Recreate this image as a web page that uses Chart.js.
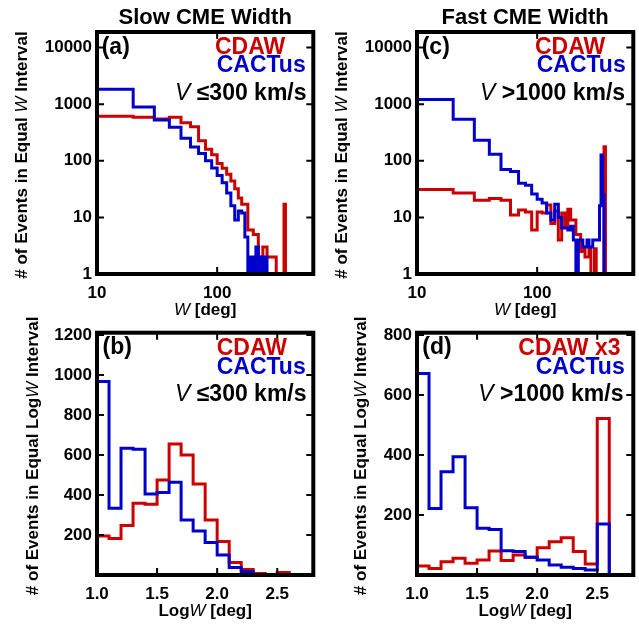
<!DOCTYPE html>
<html>
<head>
<meta charset="utf-8">
<script src="https://cdn.jsdelivr.net/npm/chart.js@4/dist/chart.umd.min.js"></script>
<style>
  html, body { margin: 0; padding: 0; background: #fff; }
  #wrap { position: relative; width: 639px; height: 624px; overflow: hidden; }
  #wrap canvas { position: absolute; left: 0; top: 0; }
</style>
</head>
<body>
<div id="wrap">
  <canvas id="pa" width="639" height="624"></canvas>
  <canvas id="pb" width="639" height="624"></canvas>
  <canvas id="pc" width="639" height="624"></canvas>
  <canvas id="pd" width="639" height="624"></canvas>
</div>
<script>
// ---------------- DATA ----------------
// Equal-W bins (start of each 10-deg bin)
const wBinStarts = [10,20,30,40,50,60,70,80,90,100,110,120,130,140,150,160,170,180,190,200,
                    210,220,230,240,250,260,270,280,290,300,310,320,330,340,350,360];
// (a) slow CMEs, counts per equal W interval
const slowCdawW   = [610,590,550,590,470,400,225,160,128,90,74,58,44,32,22,17,17,6,6,5,
                     5,2,2,3,3,2,2,2,2,2,1,1,1,1,1,17];
const slowCactusW = [1830,890,525,390,250,175,135,100,75,55,41,27,16,9,13,12,4.5,1,2,1,
                     3,1,2,1,2,1,1,1,1,1,1,1,1,1,1,1];
// (c) fast CMEs, counts per equal W interval
const fastCdawW   = [31,27,20,21.6,20,11,13.5,12.5,6,12.5,12,16.5,7.8,13,4,12,6.8,14,9,9,
                     5,5,2.5,3,2,2,3,1,1,2.8,1,1,1,1,1,177];
const fastCactusW = [1216,540,230,131,70,65,40,37,26,21,18,12,9,17,10,6.5,6.5,6,7,4,
                     1,4,4,3,3,4,3,3,4,4,4,4,16,126,25,1];

// Equal-LogW bins (start of each 0.1 bin)
const logBinStarts = [1.0,1.1,1.2,1.3,1.4,1.5,1.6,1.7,1.8,1.9,2.0,2.1,2.2,2.3,2.4,2.5];
// (b) slow CMEs
const slowCdawLog   = [195,183,247,358,353,475,655,600,455,275,167,63,28,8,3,13];
const slowCactusLog = [967,333,633,628,405,412,463,275,220,162,100,38,17,3,1,1];
// (d) fast CMEs (CDAW multiplied by 3)
const fastCdawLogX3 = [30,22,44,56,39,50,80,48,67,59,91,111,124,78,37,522];
const fastCactusLog = [672,222,344,394,224,156,152,81,78,59,50,33,26,22,17,170];

// tick labels
const wTicks = [10, 100];
const countLogTicks = [1, 10, 100, 1000, 10000];
const logWTicks = [1.0, 1.5, 2.0, 2.5];
const slowLogCountTicks = [200, 400, 600, 800, 1000, 1200];
const fastLogCountTicks = [200, 400, 600, 800];

// ---------------- STYLE ----------------
const RED = '#cc0000', BLUE = '#0000cc';
const FONT = "'Liberation Sans', Arial, Helvetica, sans-serif";
const W_BIN = 10, LOG_BIN = 0.1;

function histogram(starts, width, values, floor) {
  // points at bin starts; horizontal-first stepping keeps v_i over [start_i, start_i+1]
  const pts = [{ x: starts[0], y: floor }];
  starts.forEach((s, i) => pts.push({ x: s, y: values[i] }));
  pts.push({ x: starts[starts.length - 1] + width, y: floor });
  return pts;
}

function drawParts(ctx, parts, x, y, align) {
  let total = 0;
  parts.forEach(p => { ctx.font = p.font; p.w = ctx.measureText(p.text).width; total += p.w; });
  let cx = align === 'center' ? x - total / 2 : (align === 'right' ? x - total : x);
  ctx.textAlign = 'left';
  parts.forEach(p => {
    ctx.font = p.font; ctx.fillStyle = p.color || '#000';
    ctx.fillText(p.text, cx, y); cx += p.w;
  });
}

const deco = {
  id: 'deco',
  afterDraw(chart, args, o) {
    const ctx = chart.ctx, a = chart.chartArea;
    const xs = chart.scales.x, ys = chart.scales.y;
    ctx.save();
    ctx.strokeStyle = '#000'; ctx.lineWidth = 2;
    ctx.beginPath();
    xs.ticks.forEach(t => {
      const px = xs.getPixelForValue(t.value);
      ctx.moveTo(px, a.bottom); ctx.lineTo(px, a.bottom - 7);
      ctx.moveTo(px, a.top); ctx.lineTo(px, a.top + 7);
    });
    ys.ticks.forEach(t => {
      const py = ys.getPixelForValue(t.value);
      ctx.moveTo(a.left, py); ctx.lineTo(a.left + 7, py);
      ctx.moveTo(a.right, py); ctx.lineTo(a.right - 7, py);
    });
    ctx.stroke();
    ctx.lineWidth = 4;
    ctx.strokeRect(a.left, a.top, a.right - a.left, a.bottom - a.top);

    ctx.textBaseline = 'alphabetic';
    const cxm = (a.left + a.right) / 2;
    if (o.title) drawParts(ctx, [{ text: o.title, font: `bold 22px ${FONT}` }], cxm, a.top - 8.5, 'center');
    drawParts(ctx, [{ text: o.label, font: `bold 23px ${FONT}` }], a.left + o.labelDx, a.top + 21.5, 'left');
    o.legend.forEach(l => drawParts(ctx, [{ text: l.text, font: `bold 23px ${FONT}`, color: l.color }],
      a.left + l.dx, a.top + l.dy, 'left'));
    drawParts(ctx, [{ text: 'V', font: `italic 23px ${FONT}` },
                    { text: o.speed, font: `bold 23px ${FONT}` }], a.left + o.speedDx, a.top + 68, 'left');
    drawParts(ctx, o.xTitle, cxm, a.bottom + 40.5, 'center');
    ctx.save();
    ctx.translate(a.left - o.yTitleDx, (a.top + a.bottom) / 2 + 2);
    ctx.rotate(-Math.PI / 2);
    ctx.textBaseline = 'middle';
    drawParts(ctx, o.yTitle, 0, 0, 'center');
    ctx.restore();
    ctx.restore();
  }
};

const B17 = `bold 17px ${FONT}`, I17 = `italic 17px ${FONT}`;

function makePanel(id, cfg) {
  const a = cfg.area, YW = 60, XH = 30;
  const tickFont = { family: FONT, size: 17, weight: 'bold' };
  const line = (data, color) => ({
    data, borderColor: color, borderWidth: 3, pointRadius: 0, fill: false,
    stepped: 'before', tension: 0
  });
  return new Chart(document.getElementById(id), {
    type: 'line',
    data: {
      datasets: [
        line(histogram(cfg.starts, cfg.binWidth, cfg.blue, cfg.floor), BLUE),
        line(histogram(cfg.starts, cfg.binWidth, cfg.red, cfg.floor), RED)
      ]
    },
    options: {
      responsive: false, animation: false, events: [],
      layout: { padding: { left: a.left - YW, top: a.top, right: 639 - a.right, bottom: 624 - a.bottom - XH } },
      scales: {
        x: {
          type: cfg.xType, min: cfg.xMin, max: cfg.xMax,
          grid: { display: false, drawTicks: false }, border: { display: false },
          ticks: { font: tickFont, color: '#000', padding: 9, autoSkip: false, maxRotation: 0,
                   callback: cfg.xFmt },
          afterBuildTicks: s => { s.ticks = cfg.xTicks.map(v => ({ value: v })); },
          afterFit: s => { s.height = XH; }
        },
        y: {
          type: cfg.yType, min: cfg.yMin, max: cfg.yMax,
          grid: { display: false, drawTicks: false }, border: { display: false },
          ticks: { font: tickFont, color: '#000', padding: 5, autoSkip: false,
                   callback: v => String(v) },
          afterBuildTicks: s => { s.ticks = cfg.yTicks.map(v => ({ value: v })); },
          afterFit: s => { s.width = YW; }
        }
      },
      plugins: { legend: { display: false }, tooltip: { enabled: false }, deco: cfg.deco }
    },
    plugins: [deco]
  });
}

const topX = [{ text: 'W', font: I17 }, { text: ' [deg]', font: B17 }];
const botX = [{ text: 'Log', font: B17 }, { text: 'W', font: I17 }, { text: ' [deg]', font: B17 }];
const topY = [{ text: '# of Events in Equal ', font: B17 }, { text: 'W', font: I17 }, { text: ' Interval', font: B17 }];
const botY = [{ text: '# of Events in Equal Log', font: B17 }, { text: 'W', font: I17 }, { text: ' Interval', font: B17 }];
const fmtLog = v => String(v);
const fmtLin = v => Number(v).toFixed(1);

makePanel('pa', {
  area: { left: 97, top: 32, right: 313.3, bottom: 274 },
  starts: wBinStarts, binWidth: W_BIN, red: slowCdawW, blue: slowCactusW, floor: 1,
  xType: 'logarithmic', xMin: 10, xMax: 631, xTicks: wTicks, xFmt: fmtLog,
  yType: 'logarithmic', yMin: 1, yMax: 18870, yTicks: countLogTicks,
  deco: { title: 'Slow CME Width', label: '(a)', labelDx: 4.7,
          legend: [{ text: 'CDAW', color: RED, dx: 118, dy: 21.5 }, { text: 'CACTus', color: BLUE, dx: 119.7, dy: 40 }],
          speed: ' \u2264300 km/s', speedDx: 78, xTitle: topX, yTitle: topY, yTitleDx: 75 }
});
makePanel('pc', {
  area: { left: 417, top: 32, right: 633.3, bottom: 274 },
  starts: wBinStarts, binWidth: W_BIN, red: fastCdawW, blue: fastCactusW, floor: 1,
  xType: 'logarithmic', xMin: 10, xMax: 631, xTicks: wTicks, xFmt: fmtLog,
  yType: 'logarithmic', yMin: 1, yMax: 18870, yTicks: countLogTicks,
  deco: { title: 'Fast CME Width', label: '(c)', labelDx: 4.7,
          legend: [{ text: 'CDAW', color: RED, dx: 118, dy: 21.5 }, { text: 'CACTus', color: BLUE, dx: 119.7, dy: 40 }],
          speed: ' >1000 km/s', speedDx: 63, xTitle: topX, yTitle: topY, yTitleDx: 75 }
});
makePanel('pb', {
  area: { left: 97, top: 332.7, right: 313.3, bottom: 575 },
  starts: logBinStarts, binWidth: LOG_BIN, red: slowCdawLog, blue: slowCactusLog, floor: 0,
  xType: 'linear', xMin: 1.0, xMax: 2.8, xTicks: logWTicks, xFmt: fmtLin,
  yType: 'linear', yMin: 0, yMax: 1211, yTicks: slowLogCountTicks,
  deco: { title: null, label: '(b)', labelDx: 5.5,
          legend: [{ text: 'CDAW', color: RED, dx: 119.7, dy: 22 }, { text: 'CACTus', color: BLUE, dx: 119.7, dy: 41.5 }],
          speed: ' \u2264300 km/s', speedDx: 78, xTitle: botX, yTitle: botY, yTitleDx: 63.5 }
});
makePanel('pd', {
  area: { left: 417, top: 332.7, right: 633.3, bottom: 575 },
  starts: logBinStarts, binWidth: LOG_BIN, red: fastCdawLogX3, blue: fastCactusLog, floor: 0,
  xType: 'linear', xMin: 1.0, xMax: 2.8, xTicks: logWTicks, xFmt: fmtLin,
  yType: 'linear', yMin: 0, yMax: 808, yTicks: fastLogCountTicks,
  deco: { title: null, label: '(d)', labelDx: 5.3,
          legend: [{ text: 'CDAW x3', color: RED, dx: 101.3, dy: 22 }, { text: 'CACTus', color: BLUE, dx: 118.7, dy: 41.5 }],
          speed: ' >1000 km/s', speedDx: 61.3, xTitle: botX, yTitle: botY, yTitleDx: 56 }
});
</script>
</body>
</html>
